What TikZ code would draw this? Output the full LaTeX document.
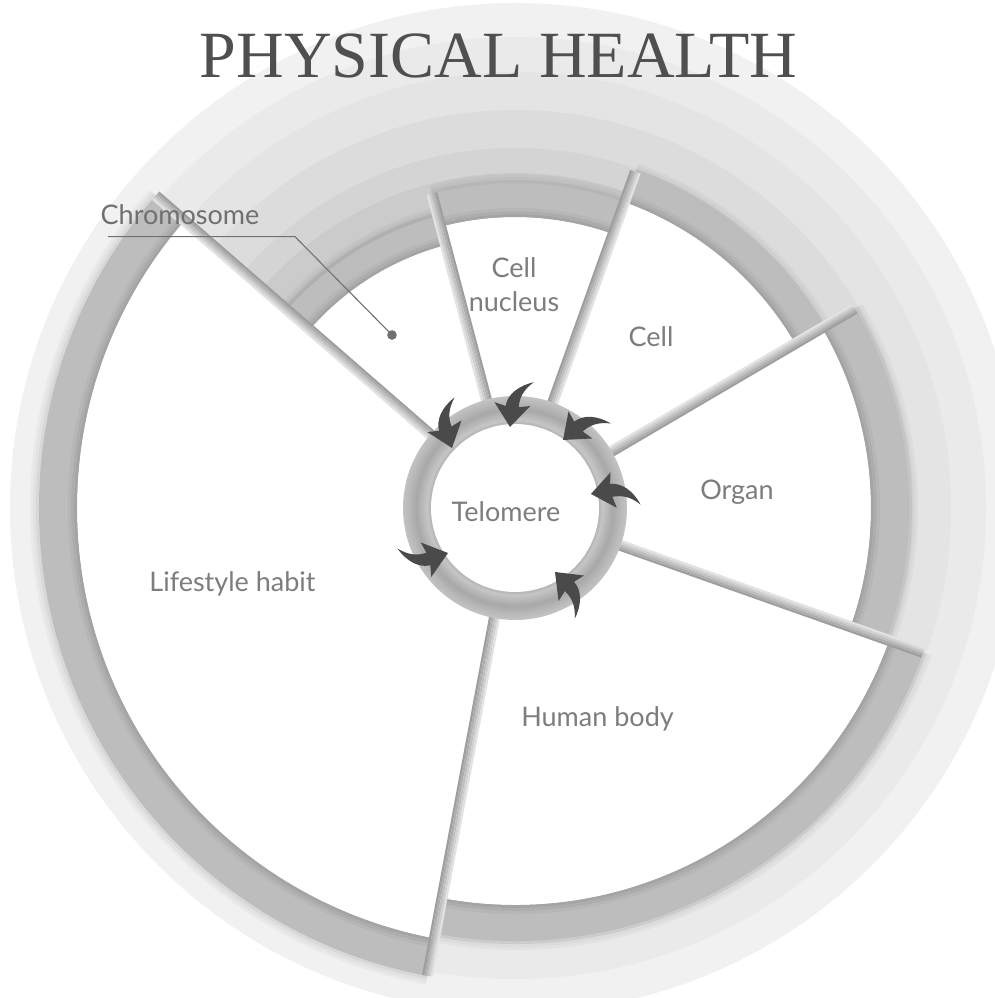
\documentclass[tikz,border=0pt]{standalone}
\usepackage{fontspec}
\setmainfont{Liberation Serif}
\newfontfamily\lblfont{Lato}
\definecolor{bgA}{HTML}{F1F1F1}
\definecolor{bgB}{HTML}{EAEAEA}
\definecolor{bgC}{HTML}{E4E4E4}
\definecolor{bgD}{HTML}{DCDCDC}
\definecolor{bgE}{HTML}{D4D4D4}
\definecolor{bgF}{HTML}{CBCBCB}
\definecolor{bgG}{HTML}{C4C4C4}
\definecolor{bandgray}{HTML}{BDBDBD}
\definecolor{rimcA}{HTML}{A4A4A4}
\definecolor{rimcB}{HTML}{ADADAD}
\definecolor{rimcC}{HTML}{B6B6B6}
\definecolor{sepA}{HTML}{9E9E9E}
\definecolor{sepB}{HTML}{AEAEAE}
\definecolor{sepC}{HTML}{BFBFBF}
\definecolor{sepD}{HTML}{D0D0D0}
\definecolor{sepE}{HTML}{E2E2E2}
\definecolor{arrowgray}{HTML}{4A4A4A}
\definecolor{labelgray}{HTML}{7D7D7D}
\definecolor{chromogray}{HTML}{707070}
\definecolor{titlegray}{HTML}{4F4F4F}
\tikzset{
  rimA/.style={draw=rimcA, line width=3pt},
  rimB/.style={draw=rimcB, line width=3pt},
  rimC/.style={draw=rimcC, line width=3pt},
  shadA/.style={draw=black, draw opacity=0.10, line width=3pt},
  shadB/.style={draw=black, draw opacity=0.06, line width=3pt},
  shadC/.style={draw=black, draw opacity=0.03, line width=3pt},
  lbl/.style={text=labelgray, font=\lblfont\fontsize{27}{30}\selectfont, inner sep=0pt, anchor=base},
  leader/.style={draw=chromogray, line width=1.1pt},
  telarrow/.pic={\fill[arrowgray] (0,0) -- (-23,-18) -- (-20.5,-6.5) .. controls (-32,-6) and (-42,4) .. (-47,19) .. controls (-38,9) and (-30,6.5) .. (-20.5,6.5) -- (-23,18) -- cycle;}
}
\newcommand\secband[4]{%
  \fill[bandgray] (0,0) -- (#1:#4pt) arc[start angle=#1,end angle=#2,radius=#4pt] -- cycle;
  \fill[white] (0,0) -- (#1:#3pt) arc[start angle=#1,end angle=#2,radius=#3pt] -- cycle;
  \pgfmathsetmacro\rA{#3+1.5}\pgfmathsetmacro\rB{#3+4.5}\pgfmathsetmacro\rC{#3+7.5}%
  \draw[rimA] (#1:\rA pt) arc[start angle=#1,end angle=#2,radius=\rA pt];
  \draw[rimB] (#1:\rB pt) arc[start angle=#1,end angle=#2,radius=\rB pt];
  \draw[rimC] (#1:\rC pt) arc[start angle=#1,end angle=#2,radius=\rC pt];
  \pgfmathsetmacro\sA{#4+1.5}\pgfmathsetmacro\sB{#4+4.5}\pgfmathsetmacro\sC{#4+7.5}%
  \draw[shadA] (#1:\sA pt) arc[start angle=#1,end angle=#2,radius=\sA pt];
  \draw[shadB] (#1:\sB pt) arc[start angle=#1,end angle=#2,radius=\sB pt];
  \draw[shadC] (#1:\sC pt) arc[start angle=#1,end angle=#2,radius=\sC pt];
}
\newcommand\sepstrip[3]{%
  \begin{scope}[rotate=#1, yscale=#3]
    \fill[sepA] (100,-5.5) rectangle (#2,-3.2);
    \fill[sepB] (100,-3.3) rectangle (#2,-1.0);
    \fill[sepC] (100,-1.1) rectangle (#2,1.2);
    \fill[sepD] (100,1.1) rectangle (#2,3.4);
    \fill[sepE] (100,3.3) rectangle (#2,5.5);
  \end{scope}}
\begin{document}
\begin{tikzpicture}[x=1pt,y=1pt]
\useasboundingbox (0,0) rectangle (995,998);
\begin{scope}
\clip (0,0) rectangle (995,998);
\begin{scope}[shift={(515,490)}]
  % background concentric discs
  \fill[bgA] (0,0) circle (505pt);
  \fill[bgB] (0,0) circle (471pt);
  \fill[bgC] (0,0) circle (436pt);
  \fill[bgD] (0,0) circle (398pt);
  \fill[bgE] (0,0) circle (360pt);
  \fill[bgF] (0,0) circle (335pt);
  \fill[bgG] (0,0) circle (306pt);
  % sectors: start, end, white radius, band radius
  \secband{139}{259.4}{438}{476}   % Lifestyle habit
  \secband{104.8}{139}{272}{302}   % Chromosome
  \secband{70.3}{104.8}{291}{325}  % Cell nucleus
  \secband{30.4}{70.3}{325}{357}   % Cell
  \secband{-19.5}{30.4}{356}{394}  % Organ
  \secband{-100.6}{-19.5}{397}{433}% Human body
  % separators
  \sepstrip{139}{476}{1}
  \sepstrip{104.8}{325}{1}
  \sepstrip{70.3}{357}{-1}
  \sepstrip{30.4}{394}{1}
  \sepstrip{-19.5}{433}{1}
  \sepstrip{-100.6}{476}{1}
  % telomere ring, built from nested filled discs (outer to inner)
  \foreach \r in {112,111,...,85} {
    \pgfmathsetmacro\g{\r<88 ? (0.69+(\r-84)/4*0.086) : (\r<99 ? (0.776-(\r-88)/11*0.116) : (\r<106 ? (0.66+(\r-99)/7*0.06) : (0.72+(\r-106)/6*0.045)))}
    \definecolor{ringtmp}{gray}{\g}
    \fill[ringtmp] (0,0) circle (\r pt);
  }
  \fill[white] (0,0) circle (84pt);
\end{scope}
\end{scope}
% arrows
\pic[rotate=-71] (arr1) at (452,550) {telarrow};
\pic[rotate=-96] (arr2) at (510,571) {telarrow};
\pic[rotate=221] (arr3) at (563,558) {telarrow};
\pic[rotate=190] (arr4) at (591,504) {telarrow};
\pic[rotate=135] (arr5) at (555,426) {telarrow};
\pic[rotate=17] (arr6) at (448,445) {telarrow};
% labels
\node[lbl] (telomere) at (506,476.3) {Telomere};
\node[lbl] (nucA) at (514,720) {Cell};
\node[lbl] (nucB) at (514,686.3) {nucleus};
\node[lbl] (cell) at (651,651.3) {Cell};
\node[lbl] (organ) at (737,498) {Organ};
\node[lbl] (human) at (597.5,271.3) {Human body};
\node[lbl] (life) at (232.5,406) {Lifestyle habit};
% chromosome label with leader
\coordinate (chromodot) at (392,663);
\coordinate (lk1) at (108,761.3);
\coordinate (lk2) at (295,761.3);
\draw[leader] (lk1) -- (lk2) -- (chromodot);
\fill[chromogray] (chromodot) circle (4.8pt);
\node[lbl, text=chromogray] (chromo) at (180,773) {Chromosome};
% title
\node[inner sep=0pt, anchor=base, text=titlegray, font=\fontsize{66}{70}\selectfont] (title) at (498.5,920) {PHYSICAL HEALTH};
\end{tikzpicture}
\end{document}
